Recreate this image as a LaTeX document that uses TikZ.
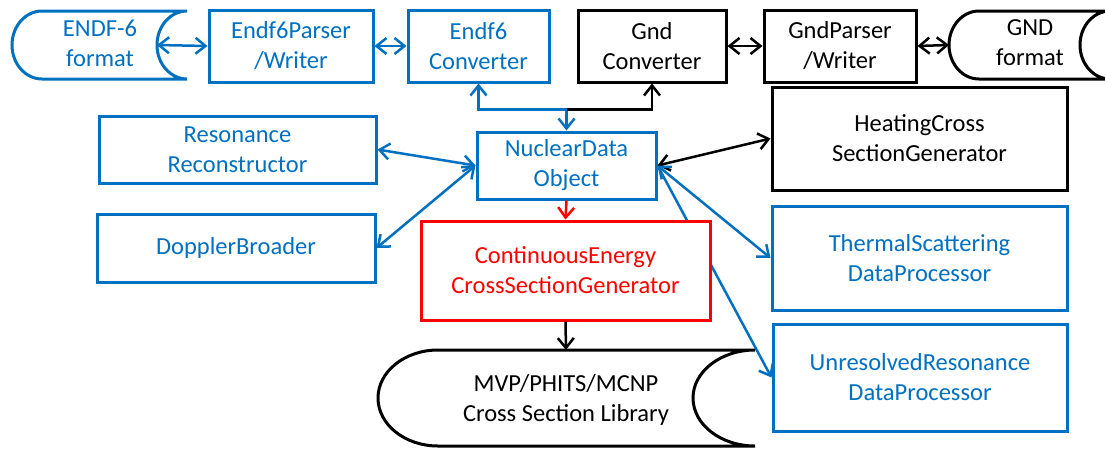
\documentclass[tikz,border=0pt]{standalone}
\usepackage{fontspec}
\setmainfont{Carlito}
\usetikzlibrary{arrows.meta}
\definecolor{ofblue}{RGB}{0,112,192}

\begin{document}
\begin{tikzpicture}[x=1pt,y=1pt,
		>={Straight Barb[length=10pt,width=16pt]},
		every node/.style={font=\fontsize{24.5}{30}\selectfont, align=center},
		box/.style={draw, line width=3pt, fill=white, inner sep=0pt},
		bluebox/.style={box, draw=ofblue, text=ofblue},
		blackbox/.style={box, draw=black},
		redbox/.style={box, draw=red, text=red},
		store/.style={line width=3pt},
		bluelink/.style={<->, ofblue, line width=2.5pt},
		blacklink/.style={<->, black, line width=2.5pt}]
		\useasboundingbox (0,0) rectangle (1105,-448);
		
		\draw[store, draw=ofblue] (187,-11) -- (42,-11) arc[start angle=90, end angle=270, x radius=30, y radius=34] -- (187,-79) arc[start angle=270, end angle=90, x radius=30, y radius=34];
		\node (endf) [at= {(100,-43)}, text=ofblue] {ENDF-6\\format};
		\coordinate (endfport) at (157,-45);
		
		\node (parser) [at= {(291,-46)}, bluebox, minimum width=164, minimum height=72] {Endf6Parser\\/Writer};
		\node (endfconv) [at= {(478.5,-46)}, bluebox, minimum width=141, minimum height=72] {Endf6\\Converter};
		\node (gndconv) [at= {(652,-46)}, blackbox, minimum width=148, minimum height=72] {Gnd\\Converter};
		\node (gndparser) [at= {(840,-46)}, blackbox, minimum width=152, minimum height=72] {GndParser\\/Writer};
		
		\draw[store] (1110,-11) -- (979,-11) arc[start angle=90, end angle=270, x radius=30, y radius=34] -- (1110,-79) arc[start angle=270, end angle=90, x radius=30, y radius=34];
		\node (gnd) [at= {(1030,-43)}] {GND\\format};
		\coordinate (gndport) at (949,-45);
		
		\node (resonance) [at= {(237.5,-149.5)}, bluebox, minimum width=277, minimum height=67] {Resonance\\Reconstructor};
		\node (doppler) [at= {(236,-248)}, bluebox, minimum width=278, minimum height=68] {DopplerBroader};
		\node (nd) [at= {(566.5,-165.5)}, bluebox, minimum width=179, minimum height=67] {NuclearData\\Object};
		
		\node (heating) [at= {(919.5,-138.5)}, blackbox, minimum width=295, minimum height=103] {HeatingCross\\SectionGenerator};
		\node (thermal) [at= {(919.5,-258)}, bluebox, minimum width=295, minimum height=104] {ThermalScattering\\DataProcessor};
		\node (unres) [at= {(920,-377.5)}, bluebox, minimum width=294, minimum height=107] {UnresolvedResonance\\DataProcessor};
		
		% runs behind the red box
		\draw[->, ofblue, line width=2.5pt] (nd.east) -- (unres.west);
		
		\node (ce) [at= {(565.5,-270.5)}, redbox, minimum width=289, minimum height=99] {ContinuousEnergy\\CrossSectionGenerator};
		
		\draw[store] (755,-350) -- (438,-350) arc[start angle=90, end angle=270, x radius=60, y radius=48] -- (755,-446) arc[start angle=270, end angle=90, x radius=62, y radius=48];
		\node (lib) [at= {(566,-400)}] {MVP/PHITS/MCNP\\Cross Section Library};
		\coordinate (libtop) at (566,-350);
		
		\draw[bluelink] (endfport) -- (parser.west);
		\draw[bluelink] (parser.east) -- (endfconv.west);
		\draw[blacklink] (gndconv.east) -- (gndparser.west);
		\draw[blacklink] (gndparser.east) -- (gndport);
		
		\draw[bluelink] (nd.north) -- ++(0,21) coordinate (hub) -| (endfconv.south);
		\draw[->, black, line width=2.5pt] (hub) -| (gndconv.south);
		
		\draw[bluelink] (resonance.east) -- (nd.west);
		\draw[bluelink] (doppler.east) -- (nd.west);
		\draw[blacklink] (nd.east) -- (heating.west);
		\draw[bluelink] (nd.east) -- (thermal.west);
		
		\draw[->, red, line width=2.5pt] (nd.south) -- (ce.north);
		\draw[->, black, line width=2.5pt] (ce.south) -- (libtop);
		\end{tikzpicture}
\end{document}
